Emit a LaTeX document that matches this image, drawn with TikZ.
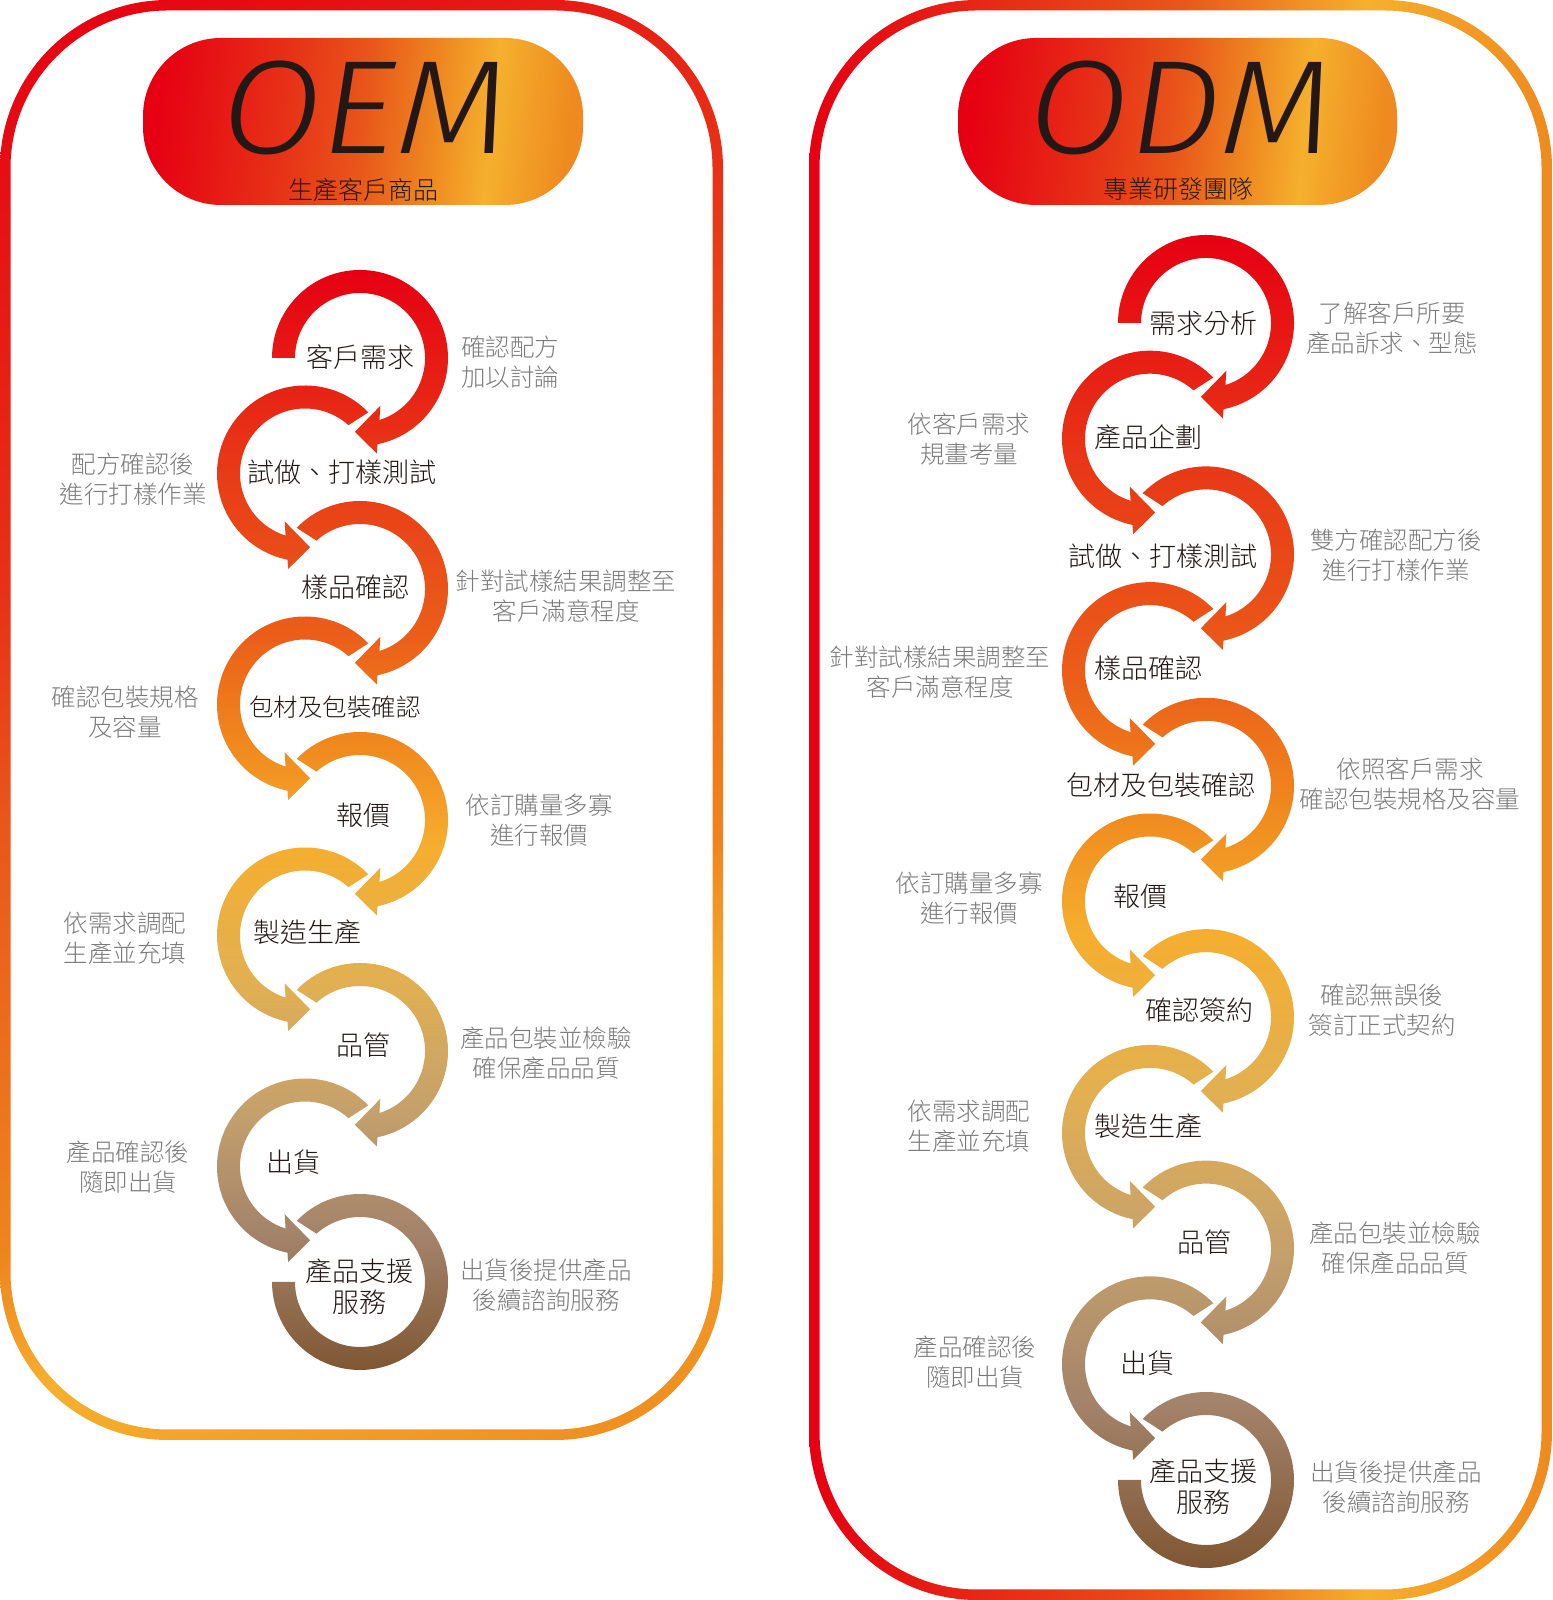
\documentclass[tikz,border=0pt]{standalone}
\usepackage{graphicx}
\usepackage{fontspec}
\IfFontExistsTF{Noto Sans CJK TC Light}
    {\setmainfont{Noto Sans CJK TC Light}}
    {\setmainfont{Noto Sans CJK TC}}
\IfFontExistsTF{Fira Sans Light}
    {\newfontfamily\titlefontbase{Fira Sans Light}\newcommand\titleface{\titlefontbase\itshape\fontsize{133}{133}\selectfont}}
    {\IfFontExistsTF{Open Sans Light}
        {\newfontfamily\titlefontbase{Open Sans Light}\newcommand\titleface{\titlefontbase\itshape\fontsize{128}{128}\selectfont}}
        {\newfontfamily\titlefontbase{Open Sans}\newcommand\titleface{\titlefontbase\itshape\fontsize{128}{128}\selectfont}}}
\usetikzlibrary{calc}

\definecolor{inkdark}{HTML}{231815}
\definecolor{notegray}{HTML}{7B7B7B}
% couleurs des anneaux, du haut vers le bas
\definecolor{ringA}{HTML}{E60012}
\definecolor{ringB}{HTML}{E83A17}
\definecolor{ringC}{HTML}{EB5E19}
\definecolor{ringD}{HTML}{F08A1E}
\definecolor{ringE}{HTML}{F5AE2F}
\definecolor{ringF}{HTML}{E2B052}
\definecolor{ringG}{HTML}{C4A06C}
\definecolor{ringH}{HTML}{A3836A}
\definecolor{ringI}{HTML}{7D5430}
% couleurs des cadres
\definecolor{frameA}{HTML}{E60012}
\definecolor{frameB}{HTML}{E73317}
\definecolor{frameC}{HTML}{E9561A}
\definecolor{frameD}{HTML}{EE841F}
\definecolor{frameE}{HTML}{F5B02D}
\definecolor{frameF}{HTML}{EE8A1F}

\pgfdeclareverticalshading{ringgrad}{100bp}{color(0bp)=(ringI); color(25bp)=(ringI); color(31.5bp)=(ringH); color(37bp)=(ringG); color(43bp)=(ringF); color(49bp)=(ringE); color(53.5bp)=(ringD); color(58.5bp)=(ringC); color(66bp)=(ringB); color(75bp)=(ringA); color(100bp)=(ringA)}
\pgfdeclarehorizontalshading{pillgrad}{100bp}{color(0bp)=(frameA); color(25bp)=(frameA); color(41bp)=(frameB); color(50bp)=(frameC); color(58bp)=(frameD); color(65.5bp)=(frameE); color(75bp)=(frameF); color(100bp)=(frameF)}
\pgfdeclarehorizontalshading{odmframegrad}{100bp}{color(0bp)=(frameA); color(25bp)=(frameA); color(40bp)=(frameB); color(50bp)=(frameC); color(62.5bp)=(frameE); color(75bp)=(frameF); color(100bp)=(frameF)}
\pgfdeclarehorizontalshading{oemframegrad}{100bp}{color(0bp)=(frameA); color(16bp)=(frameA); color(38bp)=(frameB); color(46bp)=(frameC); color(62bp)=(frameD); color(68bp)=(frameE); color(84bp)=(frameF); color(100bp)=(frameF)}

\begin{document}
\begin{tikzpicture}[x=1pt, y=1pt,
    steptext/.style={font=\fontsize{27}{31}\selectfont, text=inkdark, align=center, inner sep=0pt},
    notetext/.style={font=\fontsize{24.5}{30}\selectfont, text=notegray, align=center, inner sep=0pt},
    titletext/.style={font=\titleface, text=inkdark, inner sep=0pt},
    subtext/.style={font=\fontsize{25}{25}\selectfont, text=inkdark, inner sep=0pt}]

    \useasboundingbox (0,0) rectangle (1552,1600);

    % Cadres arrondis
    \shade[shading=oemframegrad, shading angle=-60, even odd rule]
        (0,160) [rounded corners=168pt] rectangle (723,1600)
        (10.5,170.5) [rounded corners=157.5pt] rectangle (712.5,1589.5);
    \shade[shading=odmframegrad, even odd rule]
        (809,0) [rounded corners=168pt] rectangle (1552,1600)
        (819.5,10.5) [rounded corners=157.5pt] rectangle (1541.5,1589.5);

    % Pastilles des titres
    \shade[shading=pillgrad, shading angle=-6, rounded corners=78pt] (143,1395) rectangle (583,1562);
    \shade[shading=pillgrad, shading angle=-6, rounded corners=78pt] (958,1395) rectangle (1397,1562);
    \node[titletext] (oemtitle) at (365,1492) {\scalebox{1.1}[1]{OEM}};
    \node[subtext] (oemsub) at (363,1410) {生產客戶商品};
    \node[titletext] (odmtitle) at (1181,1492) {\scalebox{1.1}[1]{ODM}};
    \node[subtext] (odmsub) at (1178,1411) {專業研發團隊};

    % Centres des cercles
    \foreach \k in {0,...,8} {
        \pgfmathsetmacro\cy{1242-115.5*\k}
        \ifodd\k\relax \def\cx{305}\else \def\cx{360}\fi
        \coordinate (oem\k) at (\cx,\cy);
    }
    \foreach \k in {0,...,10} {
        \pgfmathsetmacro\cy{1277-115.7*\k}
        \ifodd\k\relax \def\cx{1150}\else \def\cx{1206}\fi
        \coordinate (odm\k) at (\cx,\cy);
    }

    % Anneaux OEM
    \shade[shading=ringgrad]
        ($(oem0)+(180:88)$) arc[start angle=180, end angle=-78.5, radius=88]
            -- ($(oem0)+(-80:97)$) -- ($(oem0)+(-94:74)$) -- ($(oem0)+(-67:52)$)
            -- ($(oem0)+(-72.6:65)$) arc[start angle=-72.6, end angle=180, radius=65] -- cycle
        \foreach \k in {2,4,6} {
            ($(oem\k)+(136:88)$) arc[start angle=136, end angle=-78.5, radius=88]
            -- ($(oem\k)+(-80:97)$) -- ($(oem\k)+(-94:74)$) -- ($(oem\k)+(-67:52)$)
            -- ($(oem\k)+(-72.6:65)$) arc[start angle=-72.6, end angle=132, radius=65] -- cycle
        }
        \foreach \k in {1,3,5,7} {
            ($(oem\k)+(44:88)$) arc[start angle=44, end angle=258.5, radius=88]
            -- ($(oem\k)+(260:97)$) -- ($(oem\k)+(274:74)$) -- ($(oem\k)+(247:52)$)
            -- ($(oem\k)+(252.6:65)$) arc[start angle=252.6, end angle=48, radius=65] -- cycle
        }
        ($(oem8)+(136:88)$) arc[start angle=136, end angle=-180, radius=88]
            -- ($(oem8)+(180:65)$) arc[start angle=-180, end angle=132, radius=65] -- cycle;

    % Anneaux ODM
    \shade[shading=ringgrad]
        ($(odm0)+(180:88)$) arc[start angle=180, end angle=-78.5, radius=88]
            -- ($(odm0)+(-80:97)$) -- ($(odm0)+(-94:74)$) -- ($(odm0)+(-67:52)$)
            -- ($(odm0)+(-72.6:65)$) arc[start angle=-72.6, end angle=180, radius=65] -- cycle
        \foreach \k in {2,4,6,8} {
            ($(odm\k)+(136:88)$) arc[start angle=136, end angle=-78.5, radius=88]
            -- ($(odm\k)+(-80:97)$) -- ($(odm\k)+(-94:74)$) -- ($(odm\k)+(-67:52)$)
            -- ($(odm\k)+(-72.6:65)$) arc[start angle=-72.6, end angle=132, radius=65] -- cycle
        }
        \foreach \k in {1,3,5,7,9} {
            ($(odm\k)+(44:88)$) arc[start angle=44, end angle=258.5, radius=88]
            -- ($(odm\k)+(260:97)$) -- ($(odm\k)+(274:74)$) -- ($(odm\k)+(247:52)$)
            -- ($(odm\k)+(252.6:65)$) arc[start angle=252.6, end angle=48, radius=65] -- cycle
        }
        ($(odm10)+(136:88)$) arc[start angle=136, end angle=-180, radius=88]
            -- ($(odm10)+(180:65)$) arc[start angle=-180, end angle=132, radius=65] -- cycle;

    % Etapes OEM
    \node[steptext] (oemstep0) at (360,1243) {客戶需求};
    \node[steptext] (oemstep1) at (342,1128) {試做、打樣測試};
    \node[steptext] (oemstep2) at (355,1013) {樣品確認};
    \node[steptext, font=\fontsize{24.5}{31}\selectfont] (oemstep3) at (335,893) {包材及包裝確認};
    \node[steptext] (oemstep4) at (363,785) {報價};
    \node[steptext] (oemstep5) at (307,668) {製造生產};
    \node[steptext] (oemstep6) at (363,555) {品管};
    \node[steptext] (oemstep7) at (293,438) {出貨};
    \node[steptext] (oemstep8) at (359,313) {產品支援\\服務};

    % Remarques OEM
    \node[notetext] (oemnote0) at (510,1238) {確認配方\\加以討論};
    \node[notetext] (oemnote1) at (133,1121) {配方確認後\\進行打樣作業};
    \node[notetext] (oemnote2) at (566,1004) {針對試樣結果調整至\\客戶滿意程度};
    \node[notetext] (oemnote3) at (125,888) {確認包裝規格\\及容量};
    \node[notetext] (oemnote4) at (539,780) {依訂購量多寡\\進行報價};
    \node[notetext] (oemnote5) at (125,662) {依需求調配\\生產並充填};
    \node[notetext] (oemnote6) at (546,547) {產品包裝並檢驗\\確保產品品質};
    \node[notetext] (oemnote7) at (128,433) {產品確認後\\隨即出貨};
    \node[notetext] (oemnote8) at (546,315) {出貨後提供產品\\後續諮詢服務};

    % Etapes ODM
    \node[steptext] (odmstep0) at (1203,1277) {需求分析};
    \node[steptext] (odmstep1) at (1148,1163) {產品企劃};
    \node[steptext] (odmstep2) at (1163,1044) {試做、打樣測試};
    \node[steptext] (odmstep3) at (1148,932) {樣品確認};
    \node[steptext] (odmstep4) at (1161,815) {包材及包裝確認};
    \node[steptext] (odmstep5) at (1140,704) {報價};
    \node[steptext] (odmstep6) at (1199,590) {確認簽約};
    \node[steptext] (odmstep7) at (1148,474) {製造生產};
    \node[steptext] (odmstep8) at (1204,358) {品管};
    \node[steptext] (odmstep9) at (1147,237) {出貨};
    \node[steptext] (odmstep10) at (1203,113) {產品支援\\服務};

    % Remarques ODM
    \node[notetext] (odmnote0) at (1392,1272) {了解客戶所要\\產品訴求、型態};
    \node[notetext] (odmnote1) at (969,1161) {依客戶需求\\規畫考量};
    \node[notetext] (odmnote2) at (1396,1045) {雙方確認配方後\\進行打樣作業};
    \node[notetext] (odmnote3) at (940,928) {針對試樣結果調整至\\客戶滿意程度};
    \node[notetext] (odmnote4) at (1410,816) {依照客戶需求\\確認包裝規格及容量};
    \node[notetext] (odmnote5) at (969,702) {依訂購量多寡\\進行報價};
    \node[notetext] (odmnote6) at (1382,590) {確認無誤後\\簽訂正式契約};
    \node[notetext] (odmnote7) at (969,474) {依需求調配\\生產並充填};
    \node[notetext] (odmnote8) at (1395,352) {產品包裝並檢驗\\確保產品品質};
    \node[notetext] (odmnote9) at (975,238) {產品確認後\\隨即出貨};
    \node[notetext] (odmnote10) at (1396,113) {出貨後提供產品\\後續諮詢服務};
\end{tikzpicture}
\end{document}
